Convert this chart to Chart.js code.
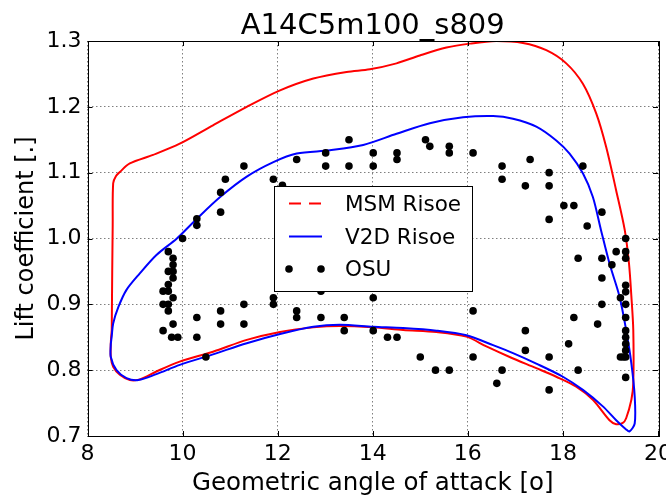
<!DOCTYPE html>
<html>
<head>
<meta charset="utf-8">
<script src="https://cdn.jsdelivr.net/npm/chart.js@4.4.0/dist/chart.umd.min.js"></script>
<style>
  html, body { margin: 0; padding: 0; background: #fff; }
  canvas { display: block; }
</style>
</head>
<body>
<canvas id="grafico" width="666" height="498"></canvas>
<script>
// Datos
const titulo = "A14C5m100_s809";
const etiquetaX = "Geometric angle of attack [o]";
const etiquetaY = "Lift coefficient [.]";
const ticksX = [8, 10, 12, 14, 16, 18, 20];
const ticksY = [0.7, 0.8, 0.9, 1.0, 1.1, 1.2, 1.3];

// MSM Risoe (rojo)
const msmAoa = [8.51, 8.52, 8.53, 8.54, 8.60, 8.68, 8.89, 9.38, 9.94, 10.64, 11.35, 12.05, 12.75, 13.45, 13.94, 14.50, 14.99, 15.55, 16.04, 16.60, 17.16, 17.65, 18.07, 18.42, 18.70, 18.91, 19.12, 19.30, 19.39, 19.44, 19.48, 19.48, 19.44, 19.33, 19.26, 19.12, 18.98, 18.63, 18.28, 17.86, 17.44, 16.88, 16.39, 15.97, 15.34, 14.64, 14.01, 13.31, 12.75, 12.05, 11.35, 10.64, 9.94, 9.45, 9.10, 8.89, 8.68, 8.54, 8.49, 8.49, 8.51];
const msmCl = [0.861, 0.950, 1.020, 1.084, 1.095, 1.101, 1.114, 1.127, 1.144, 1.172, 1.200, 1.225, 1.243, 1.253, 1.257, 1.266, 1.278, 1.290, 1.296, 1.300, 1.297, 1.286, 1.266, 1.235, 1.190, 1.139, 1.073, 1.013, 0.962, 0.912, 0.861, 0.780, 0.755, 0.727, 0.720, 0.718, 0.724, 0.755, 0.775, 0.790, 0.803, 0.820, 0.836, 0.851, 0.858, 0.861, 0.865, 0.867, 0.865, 0.858, 0.846, 0.828, 0.813, 0.798, 0.786, 0.785, 0.793, 0.805, 0.820, 0.841, 0.861];

// V2D Risoe (azul)
const v2dAoa = [8.49, 8.51, 8.54, 8.65, 8.82, 9.10, 9.45, 9.88, 10.30, 10.79, 11.35, 11.91, 12.40, 13.10, 13.80, 14.50, 15.20, 15.90, 16.53, 16.95, 17.44, 17.86, 18.14, 18.42, 18.63, 18.80, 18.98, 19.19, 19.33, 19.44, 19.51, 19.51, 19.40, 19.33, 19.12, 18.84, 18.42, 18.00, 17.44, 16.95, 16.53, 15.97, 15.34, 14.64, 14.01, 13.31, 12.75, 12.05, 11.35, 10.64, 9.94, 9.45, 9.07, 8.82, 8.61, 8.49, 8.49];
const v2dCl = [0.840, 0.852, 0.871, 0.896, 0.922, 0.947, 0.975, 1.000, 1.030, 1.063, 1.094, 1.116, 1.129, 1.134, 1.142, 1.159, 1.175, 1.184, 1.186, 1.182, 1.170, 1.149, 1.129, 1.099, 1.063, 1.013, 0.962, 0.912, 0.861, 0.810, 0.760, 0.719, 0.707, 0.710, 0.724, 0.745, 0.770, 0.790, 0.810, 0.826, 0.838, 0.853, 0.860, 0.864, 0.866, 0.869, 0.866, 0.855, 0.841, 0.824, 0.808, 0.794, 0.785, 0.788, 0.800, 0.820, 0.840];

// OSU (puntos negros)
const osuAoa = [10.00, 10.30, 10.30, 10.80, 10.80, 10.90, 11.29, 11.91, 12.10, 12.40, 13.01, 13.01, 13.50, 13.50, 14.01, 14.01, 14.51, 14.51, 15.11, 15.20, 15.61, 15.61, 16.11, 16.72, 16.72, 17.21, 17.31, 17.71, 17.71, 17.71, 18.02, 18.23, 18.42, 18.51, 18.82,
  9.70, 9.80, 9.80, 9.70, 9.80, 9.80, 9.70, 9.59, 9.70, 9.80, 9.59, 9.70, 9.70, 9.80, 9.59, 9.77, 9.90,
  10.30, 10.30, 10.49, 10.80, 10.80, 11.29, 11.29, 11.91, 11.91, 12.40, 12.40, 12.91, 12.91, 13.40, 13.40, 14.01, 14.01, 14.31, 14.51, 15.00, 15.32, 15.61, 16.11, 16.11, 16.61, 16.72, 17.21, 17.21, 17.71, 17.71, 18.12, 18.23, 18.32, 18.32, 18.73, 18.82, 18.82, 18.82, 19.03, 19.12, 19.21, 19.21, 19.27,
  19.32, 19.32, 19.32, 19.32, 19.32, 19.32, 19.32, 19.32, 19.32, 19.32, 19.32, 19.32, 19.32];
const osuCl = [1.000, 1.030, 1.020, 1.070, 1.040, 1.090, 1.110, 1.090, 1.081, 1.120, 1.130, 1.110, 1.150, 1.110, 1.130, 1.110, 1.130, 1.120, 1.150, 1.140, 1.140, 1.130, 1.130, 1.110, 1.090, 1.080, 1.120, 1.100, 1.080, 1.029, 1.050, 1.050, 1.110, 1.019, 1.040,
  0.980, 0.970, 0.960, 0.950, 0.950, 0.940, 0.930, 0.920, 0.920, 0.910, 0.900, 0.900, 0.890, 0.870, 0.860, 0.850, 0.850,
  0.880, 0.850, 0.820, 0.890, 0.870, 0.900, 0.870, 0.910, 0.900, 0.890, 0.880, 0.920, 0.880, 0.880, 0.860, 0.910, 0.860, 0.850, 0.850, 0.820, 0.800, 0.800, 0.890, 0.820, 0.780, 0.800, 0.860, 0.830, 0.820, 0.770, 0.840, 0.880, 0.970, 0.800, 0.870, 0.970, 0.940, 0.900, 0.960, 0.980, 0.910, 0.820, 0.820,
  1.000, 0.980, 0.970, 0.929, 0.919, 0.900, 0.880, 0.860, 0.850, 0.840, 0.830, 0.820, 0.789];

const fuente = "'DejaVu Sans', sans-serif";

function pares(xs, ys) {
  return xs.map((x, i) => ({ x: x, y: ys[i] }));
}

// Titulo, caja, marcas interiores y leyenda al estilo matplotlib
const estiloMpl = {
  id: 'estiloMpl',
  afterDatasetsDraw(chart) {
    const ctx = chart.ctx;
    const a = chart.chartArea;
    const sx = chart.scales.x, sy = chart.scales.y;
    ctx.save();

    // titulo centrado sobre los ejes
    ctx.fillStyle = '#000';
    ctx.font = '29px ' + fuente;
    ctx.textAlign = 'center';
    ctx.textBaseline = 'alphabetic';
    ctx.fillText(titulo, (a.left + a.right) / 2, 33.5);
    ctx.textAlign = 'left';

    ctx.strokeStyle = '#000';
    ctx.lineWidth = 1;
    ctx.setLineDash([]);
    ctx.beginPath();
    ticksX.forEach(v => {
      const px = Math.round(sx.getPixelForValue(v)) + 0.5;
      ctx.moveTo(px, a.bottom); ctx.lineTo(px, a.bottom - 5);
      ctx.moveTo(px, a.top); ctx.lineTo(px, a.top + 5);
    });
    ticksY.forEach(v => {
      const py = Math.round(sy.getPixelForValue(v)) + 0.5;
      ctx.moveTo(a.left, py); ctx.lineTo(a.left + 5, py);
      ctx.moveTo(a.right, py); ctx.lineTo(a.right - 5, py);
    });
    ctx.stroke();
    ctx.strokeRect(Math.round(a.left) + 0.5, Math.round(a.top) + 0.5, Math.round(a.right - a.left), Math.round(a.bottom - a.top));

    // leyenda
    const lx = 274, ly = 186, lw = 198, lh = 105;
    ctx.fillStyle = '#fff';
    ctx.fillRect(lx, ly, lw, lh);
    ctx.strokeRect(lx + 0.5, ly + 0.5, lw, lh);
    ctx.font = '21.5px ' + fuente;
    ctx.textBaseline = 'middle';
    const filas = [
      { txt: 'MSM Risoe', y: 205 },
      { txt: 'V2D Risoe', y: 238 },
      { txt: 'OSU', y: 270 }
    ];
    ctx.lineWidth = 2;
    ctx.strokeStyle = '#ff0000';
    ctx.setLineDash([12, 8]);
    ctx.beginPath(); ctx.moveTo(289, 203.5); ctx.lineTo(322, 203.5); ctx.stroke();
    ctx.setLineDash([]);
    ctx.strokeStyle = '#0000ff';
    ctx.beginPath(); ctx.moveTo(289, 236.5); ctx.lineTo(322, 236.5); ctx.stroke();
    ctx.fillStyle = '#000';
    [289, 321].forEach(px => {
      ctx.beginPath(); ctx.arc(px, 269, 3.8, 0, Math.PI * 2); ctx.fill();
    });
    filas.forEach(f => ctx.fillText(f.txt, 345, f.y));
    ctx.restore();
  }
};

const config = {
  type: 'scatter',
  data: {
    datasets: [
      {
        label: 'MSM Risoe',
        data: pares(msmAoa, msmCl),
        showLine: true,
        borderColor: '#ff0000',
        borderWidth: 2,
        pointRadius: 0,
        tension: 0.3,
        fill: false,
        order: 3
      },
      {
        label: 'V2D Risoe',
        data: pares(v2dAoa, v2dCl),
        showLine: true,
        borderColor: '#0000ff',
        borderWidth: 2,
        pointRadius: 0,
        tension: 0.3,
        fill: false,
        order: 2
      },
      {
        label: 'OSU',
        data: pares(osuAoa, osuCl),
        showLine: false,
        backgroundColor: '#000',
        borderColor: '#000',
        pointRadius: 3.8,
        borderWidth: 0,
        order: 1
      }
    ]
  },
  options: {
    responsive: false,
    animation: false,
    devicePixelRatio: 1,
    layout: { padding: { left: 0, right: 8, top: 41, bottom: 0 } },
    plugins: {
      legend: { display: false },
      tooltip: { enabled: false },
      title: { display: false }
    },
    scales: {
      x: {
        type: 'linear',
        min: 8, max: 20,
        afterBuildTicks: s => { s.ticks = ticksX.map(v => ({ value: v })); },
        afterFit: s => { s.height = 62; s.paddingLeft = 0; s.paddingRight = 0; },
        ticks: {
          color: '#000',
          padding: 5,
          maxRotation: 0,
          font: { family: fuente, size: 22 },
          callback: v => String(v)
        },
        grid: { color: 'rgba(0,0,0,0.5)', lineWidth: 1, drawTicks: false },
        border: { display: false, dash: [1.5, 2.5] },
        title: {
          display: true,
          text: etiquetaX,
          color: '#000',
          font: { family: fuente, size: 24.5 },
          padding: { top: 0, bottom: 0 }
        }
      },
      y: {
        type: 'linear',
        min: 0.7, max: 1.3,
        afterBuildTicks: s => { s.ticks = ticksY.map(v => ({ value: v })); },
        afterFit: s => { s.width = 87.5; s.paddingTop = 0; s.paddingBottom = 0; },
        ticks: {
          color: '#000',
          padding: 6,
          font: { family: fuente, size: 22 },
          callback: v => Number(v).toFixed(1)
        },
        grid: { color: 'rgba(0,0,0,0.5)', lineWidth: 1, drawTicks: false },
        border: { display: false, dash: [1.5, 2.5] },
        title: {
          display: true,
          text: etiquetaY,
          color: '#000',
          font: { family: fuente, size: 24 },
          padding: { top: 12, bottom: 0 }
        }
      }
    }
  },
  plugins: [estiloMpl]
};

const ctxGrafico = document.getElementById('grafico').getContext('2d');
const miGrafico = new Chart(ctxGrafico, config);
</script>
</body>
</html>
